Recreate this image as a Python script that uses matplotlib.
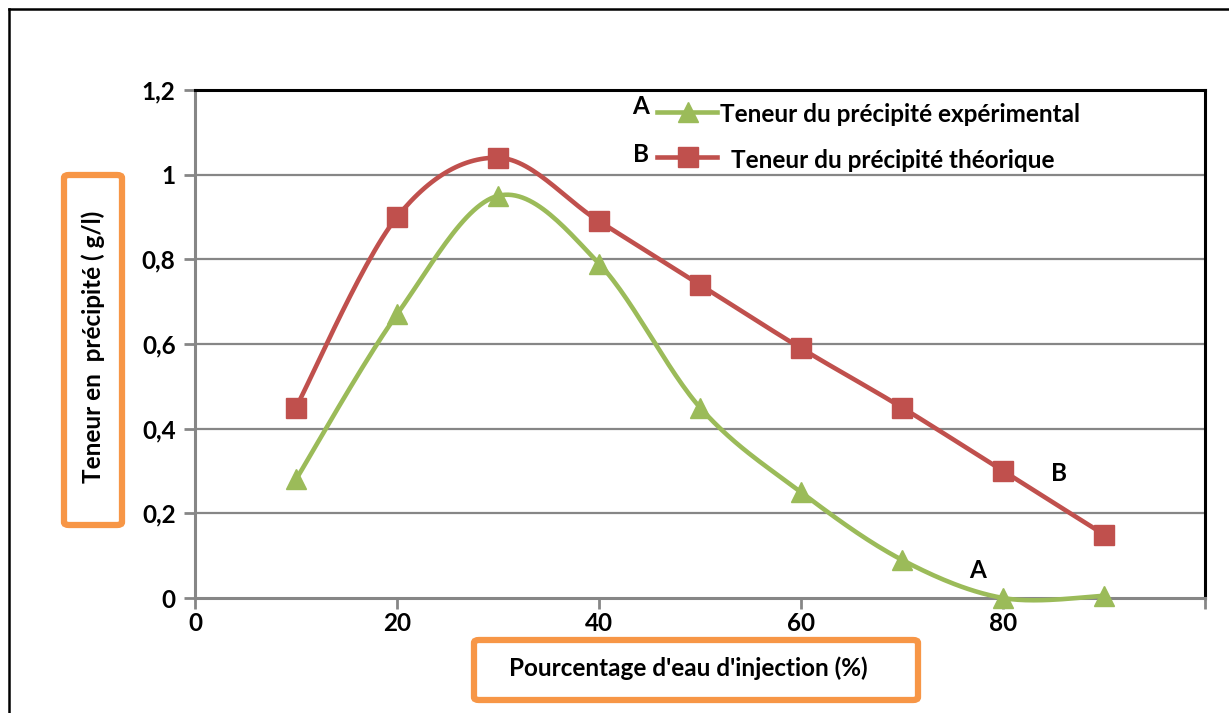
import numpy as np
import matplotlib.pyplot as plt
from matplotlib.patches import FancyBboxPatch
from matplotlib.lines import Line2D

plt.rcParams['font.family'] = ['Lato', 'DejaVu Sans']
plt.rcParams['font.weight'] = 'bold'

# injection water percentage
x = [10, 20, 30, 40, 50, 60, 70, 80, 90]
# A: experimental precipitate content (g/l)
exp_vals = [0.28, 0.67, 0.95, 0.79, 0.45, 0.25, 0.09, 0.0, 0.005]
# B: theoretical precipitate content (g/l)
theo_vals = [0.45, 0.90, 1.04, 0.89, 0.74, 0.59, 0.45, 0.30, 0.15]

y_ticks = [0, 0.2, 0.4, 0.6, 0.8, 1.0, 1.2]
y_ticklabels = ['0', '0,2', '0,4', '0,6', '0,8', '1', '1,2']
x_ticks = [0, 20, 40, 60, 80, 100]
x_ticklabels = ['0', '20', '40', '60', '80', '']

GREEN = '#9BBB59'
RED = '#C0504D'
ORANGE = '#F79646'
GRID = '#868686'
FS = 17.5

W, H = 1229, 713


def px(u, v):
    # pixel position (from top-left) -> figure fraction
    return u / W, 1 - v / H


def smooth(xs, ys, n=30):
    # bezier smoothing through every point (spreadsheet-style smoothed line)
    p = np.column_stack([xs, ys]).astype(float)
    p = np.vstack([p[0], p, p[-1]])
    out = []
    for i in range(1, len(p) - 2):
        p0, p1, p2, p3 = p[i - 1], p[i], p[i + 1], p[i + 2]
        c1 = p1 + (p2 - p0) / 6
        c2 = p2 - (p3 - p1) / 6
        t = np.linspace(0, 1, n)[:, None]
        seg = ((1 - t) ** 3) * p1 + 3 * ((1 - t) ** 2) * t * c1 + 3 * (1 - t) * t ** 2 * c2 + t ** 3 * p2
        out.append(seg if i == 1 else seg[1:])
    out = np.vstack(out)
    return out[:, 0], out[:, 1]


fig = plt.figure(figsize=(W / 100, H / 100), dpi=100)
l, b = px(195, 598)
r, t = px(1205, 90)
ax = fig.add_axes([l, b, r - l, t - b])

ax.set_xlim(0, 100)
ax.set_ylim(0, 1.2)
ax.set_yticks(y_ticks)
ax.set_yticklabels(y_ticklabels)
ax.set_xticks(x_ticks)
ax.set_xticklabels(x_ticklabels)
ax.tick_params(axis='both', labelsize=FS, colors=GRID, labelcolor='black',
               width=2, direction='out')
ax.tick_params(axis='y', length=8, pad=6)
ax.tick_params(axis='x', length=8, pad=2)
for lab in ax.get_xticklabels() + ax.get_yticklabels():
    lab.set_fontweight('bold')

for yv in y_ticks[1:-1]:
    ax.axhline(yv, color=GRID, lw=1.6, zorder=1)
ax.spines['left'].set_color(GRID)
ax.spines['bottom'].set_color(GRID)
ax.spines['left'].set_linewidth(2.2)
ax.spines['bottom'].set_linewidth(2.2)
ax.spines['top'].set_color('black')
ax.spines['right'].set_color('black')
ax.spines['top'].set_linewidth(2.2)
ax.spines['right'].set_linewidth(2.2)

sx, sy = smooth(x, theo_vals)
ax.plot(sx, sy, color=RED, lw=3.3, zorder=3, clip_on=False)
ax.plot(x, theo_vals, 's', color=RED, ms=14, zorder=4, clip_on=False)

sx, sy = smooth(x, exp_vals)
ax.plot(sx, sy, color=GREEN, lw=3.3, zorder=3, clip_on=False)
ax.plot(x, exp_vals, '^', color=GREEN, ms=15, zorder=4, clip_on=False)

# curve tags
ax.text(77.5, 0.065, 'A', fontsize=FS, fontweight='bold', ha='center', va='center')
ax.text(85.5, 0.295, 'B', fontsize=FS, fontweight='bold', ha='center', va='center')

# hand-made legend
fig.text(*px(641, 107), 'A', fontsize=FS, fontweight='bold', ha='center', va='center')
fig.text(*px(641, 155), 'B', fontsize=FS, fontweight='bold', ha='center', va='center')
for yy, col, mk in [(112, GREEN, '^'), (157, RED, 's')]:
    x0, y0 = px(657, yy)
    x1, _ = px(717, yy)
    xm, _ = px(688, yy)
    fig.add_artist(Line2D([x0, x1], [y0, y0], color=col, lw=3.3))
    fig.add_artist(Line2D([xm], [y0], marker=mk, color=col, ms=14 if mk == 's' else 15))
fig.text(*px(720, 115), 'Teneur du précipité expérimental', fontsize=FS,
         fontweight='bold', ha='left', va='center')
fig.text(*px(731, 160), 'Teneur du précipité théorique', fontsize=FS,
         fontweight='bold', ha='left', va='center')

# axis titles inside orange boxes
bx0, by0 = px(64, 525)
bx1, by1 = px(122, 175)
fig.add_artist(FancyBboxPatch((bx0, by0), bx1 - bx0, by1 - by0,
                              boxstyle='round,pad=0,rounding_size=0.004',
                              transform=fig.transFigure, fill=False,
                              ec=ORANGE, lw=4.5))
fig.text(*px(93, 347), 'Teneur en  précipité ( g/l)', fontsize=FS, fontweight='bold',
         rotation=90, ha='center', va='center')

bx0, by0 = px(474, 700)
bx1, by1 = px(918, 640)
fig.add_artist(FancyBboxPatch((bx0, by0), bx1 - bx0, by1 - by0,
                              boxstyle='round,pad=0,rounding_size=0.004',
                              transform=fig.transFigure, fill=False,
                              ec=ORANGE, lw=4.5))
fig.text(*px(688, 668), "Pourcentage d'eau d'injection (%)", fontsize=FS,
         fontweight='bold', ha='center', va='center')

# outer frame (left and top edges)
fig.add_artist(Line2D([px(9, 0)[0], px(9, 0)[0]], [0, px(0, 9)[1]], color='black', lw=1.8))
fig.add_artist(Line2D([px(9, 0)[0], 1], [px(0, 9)[1], px(0, 9)[1]], color='black', lw=1.8))

fig.savefig('out.png', dpi=100)
